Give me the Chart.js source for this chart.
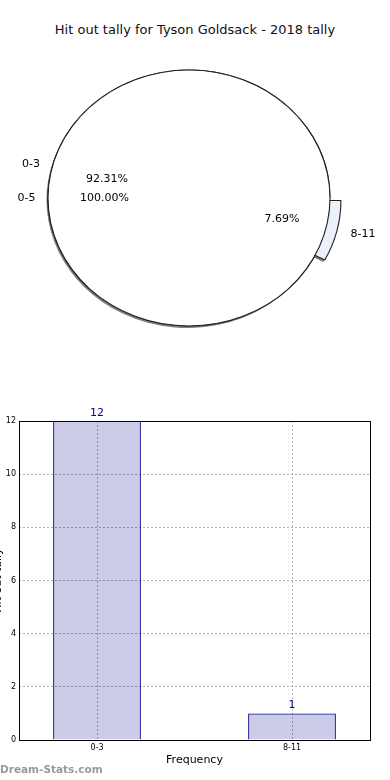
<!DOCTYPE html>
<html>
<head>
    <title>Hit out tally for Tyson Goldsack - 2018 tally</title>
    <script src="https://cdn.jsdelivr.net/npm/chart.js@4.4.1/dist/chart.umd.min.js"></script>
    <style>
        body {
            margin: 0;
            padding: 0;
            background: #ffffff;
            width: 390px;
            height: 780px;
            overflow: hidden;
            position: relative;
            font-family: "DejaVu Sans", sans-serif;
        }
        .box {
            position: absolute;
        }
        #title {
            position: absolute;
            left: 0;
            top: 22px;
            width: 390px;
            text-align: center;
            font-size: 13px;
            line-height: 16px;
            color: #111111;
        }
        #pieBox {
            left: 0;
            top: 0;
            width: 390px;
            height: 380px;
        }
        #barBox {
            left: -12px;
            top: 390px;
            width: 402px;
            height: 390px;
        }
        #credit {
            position: absolute;
            left: 0;
            top: 763px;
            font: bold 10.5px "DejaVu Sans", sans-serif;
            color: #999999;
        }
    </style>
</head>
<body>
    <div id="title">Hit out tally for Tyson Goldsack - 2018 tally</div>
    <div class="box" id="pieBox"><canvas id="pieChart"></canvas></div>
    <div class="box" id="barBox"><canvas id="barChart"></canvas></div>
    <div id="credit">Dream-Stats.com</div>

    <script>
        // data
        const pieLabels = ['0-3', '8-11'];
        const pieValues = [12, 1];
        const totalLabels = ['0-5'];
        const totalValues = [13];
        const barLabels = ['0-3', '8-11'];
        const barValues = [12, 1];
        const yMax = 12;
        const yStep = 2;

        Chart.defaults.font.family = '"DejaVu Sans", sans-serif';
        Chart.defaults.color = '#000000';
        Chart.defaults.animation = false;

        // pie is drawn as an ellipse (wider than tall), like the original
        const pieRadius = 128;
        const stretch = 141 / 128;
        const explode = [0, 0.08];

        function pieCenter(chart) {
            const a = chart.chartArea;
            return { cx: (a.left + a.right) / 2, cy: (a.top + a.bottom) / 2 };
        }

        const ellipsePie = {
            id: 'ellipsePie',
            afterDatasetsUpdate(chart) {
                // all datasets share one circle; exploded slices are pulled out
                const { cx, cy } = pieCenter(chart);
                chart.data.datasets.forEach((ds, di) => {
                    const ring = ds.ring || [0, 1];
                    const ex = ds.explode || [];
                    const shift = ds.shift || [0, 0];
                    chart.getDatasetMeta(di).data.forEach((arc, i) => {
                        const mid = (arc.startAngle + arc.endAngle) / 2;
                        const d = (ex[i] || 0) * pieRadius;
                        arc.x = cx + d * Math.cos(mid) + shift[0] / stretch;
                        arc.y = cy + d * Math.sin(mid) + shift[1];
                        arc.innerRadius = pieRadius * ring[0];
                        arc.outerRadius = pieRadius * ring[1];
                    });
                });
            },
            beforeDatasetDraw(chart) {
                const { ctx } = chart;
                const { cx, cy } = pieCenter(chart);
                ctx.save();
                ctx.translate(cx, cy);
                ctx.scale(stretch, 1);
                ctx.translate(-cx, -cy);
            },
            afterDatasetDraw(chart) {
                chart.ctx.restore();
            },
            afterDatasetsDraw(chart) {
                const { ctx } = chart;
                const { cx } = pieCenter(chart);
                ctx.save();
                ctx.font = '11px "DejaVu Sans", sans-serif';
                ctx.fillStyle = '#000000';
                ctx.textBaseline = 'middle';
                chart.data.datasets.forEach((ds, di) => {
                    if (!ds.names) return;
                    const total = ds.data.reduce((a, b) => a + b, 0);
                    chart.getDatasetMeta(di).data.forEach((arc, i) => {
                        const mid = (arc.startAngle + arc.endAngle) / 2;
                        const cos = Math.cos(mid);
                        const sin = Math.sin(mid);
                        const at = f => [cx + stretch * (arc.x - cx + f * pieRadius * cos), arc.y + f * pieRadius * sin];
                        let [x, y] = at(1.1);
                        ctx.textAlign = cos > 0 ? 'left' : 'right';
                        ctx.fillText(ds.names[i], x + (cos > 0 ? 0 : 1.5), y);
                        [x, y] = at(0.6);
                        ctx.textAlign = 'center';
                        ctx.fillText((ds.data[i] / total * 100).toFixed(2) + '%', x, y);
                    });
                });
                ctx.restore();
            }
        };

        // slices run counter-clockwise from 3 o'clock in the original
        const pieTotal = pieValues.reduce((a, b) => a + b, 0);
        const pieRotation = 90 + 360 * (1 - pieValues[0] / pieTotal);
        new Chart(document.getElementById('pieChart'), {
            type: 'pie',
            data: {
                labels: pieLabels,
                datasets: [
                    {
                        // outline of the 0-5 pie (drawn last, on top)
                        data: totalValues,
                        rotation: 90,
                        backgroundColor: '#222222',
                        borderWidth: 0,
                        ring: [1 - 0.5 / pieRadius, 1 + 0.5 / pieRadius]
                    },
                    {
                        // the 0-5 pie
                        data: totalValues,
                        names: totalLabels,
                        rotation: 90,
                        backgroundColor: '#ffffff',
                        borderWidth: 0
                    },
                    {
                        // the 0-3 / 8-11 pie underneath
                        data: pieValues,
                        names: pieLabels,
                        rotation: pieRotation,
                        backgroundColor: ['#ffffff', '#ebf0fb'],
                        borderColor: '#222222',
                        borderWidth: 1,
                        explode: explode
                    },
                    {
                        // its shadow
                        data: pieValues,
                        rotation: pieRotation,
                        backgroundColor: 'rgba(0, 0, 0, 0.5)',
                        borderWidth: 0,
                        explode: explode,
                        shift: [-1.5, 2]
                    }
                ]
            },
            options: {
                responsive: true,
                maintainAspectRatio: false,
                radius: pieRadius,
                layout: { padding: { left: 0, right: 12, top: 38, bottom: 22 } },
                plugins: {
                    legend: { display: false },
                    tooltip: { enabled: false }
                }
            },
            plugins: [ellipsePie]
        });

        // frame round the plot area
        const frame = {
            id: 'frame',
            afterDatasetsDraw(chart) {
                const { ctx, chartArea: a } = chart;
                ctx.save();
                ctx.strokeStyle = '#000000';
                ctx.lineWidth = 1;
                ctx.strokeRect(Math.floor(a.left) + 0.5, Math.floor(a.top) + 0.5,
                    Math.round(a.right - a.left), Math.round(a.bottom - a.top));
                ctx.restore();
            }
        };

        // value above every bar
        const barValueLabels = {
            id: 'barValueLabels',
            afterDatasetsDraw(chart) {
                const { ctx } = chart;
                ctx.save();
                ctx.font = '11px "DejaVu Sans", sans-serif';
                ctx.fillStyle = '#00008b';
                ctx.textAlign = 'center';
                ctx.textBaseline = 'alphabetic';
                chart.getDatasetMeta(0).data.forEach((bar, i) => {
                    ctx.fillText(String(barValues[i]), bar.x, bar.y - 5);
                });
                ctx.restore();
            }
        };

        const gridStyle = {
            color: '#b0b0b0',
            drawTicks: false,
            offset: false,
            lineWidth: 1
        };

        new Chart(document.getElementById('barChart'), {
            type: 'bar',
            data: {
                datasets: [{
                    data: barValues.map((v, i) => ({ x: i, y: v })),
                    backgroundColor: 'rgba(0, 0, 139, 0.2)',
                    borderColor: '#00008b',
                    borderWidth: 1,
                    barPercentage: 0.45,
                    categoryPercentage: 1
                }]
            },
            options: {
                responsive: true,
                maintainAspectRatio: false,
                layout: { padding: { left: 0, right: 20, top: 31, bottom: 0 } },
                plugins: {
                    legend: { display: false },
                    tooltip: { enabled: false }
                },
                scales: {
                    x: {
                        type: 'linear',
                        min: -0.4,
                        max: 1.4,
                        offset: false,
                        afterBuildTicks: s => { s.ticks = barLabels.map((_, i) => ({ value: i })); },
                        afterFit: s => { s.height = 40; },
                        ticks: {
                            callback: v => barLabels[v],
                            font: { size: 8 },
                            padding: 3,
                            maxRotation: 0
                        },
                        grid: gridStyle,
                        border: { display: false, dash: [2, 2] },
                        title: {
                            display: true,
                            text: 'Frequency',
                            font: { size: 11 },
                            padding: { top: 0, bottom: 13.4 }
                        }
                    },
                    y: {
                        min: 0,
                        max: yMax,
                        afterFit: s => { s.width = 31; },
                        ticks: {
                            stepSize: yStep,
                            font: { size: 8 },
                            padding: 3
                        },
                        grid: gridStyle,
                        border: { display: false, dash: [2, 2] },
                        title: {
                            display: true,
                            text: 'Hit out tally',
                            font: { size: 11 },
                            padding: { top: 4, bottom: 0 }
                        }
                    }
                }
            },
            plugins: [frame, barValueLabels]
        });
    </script>
</body>
</html>
